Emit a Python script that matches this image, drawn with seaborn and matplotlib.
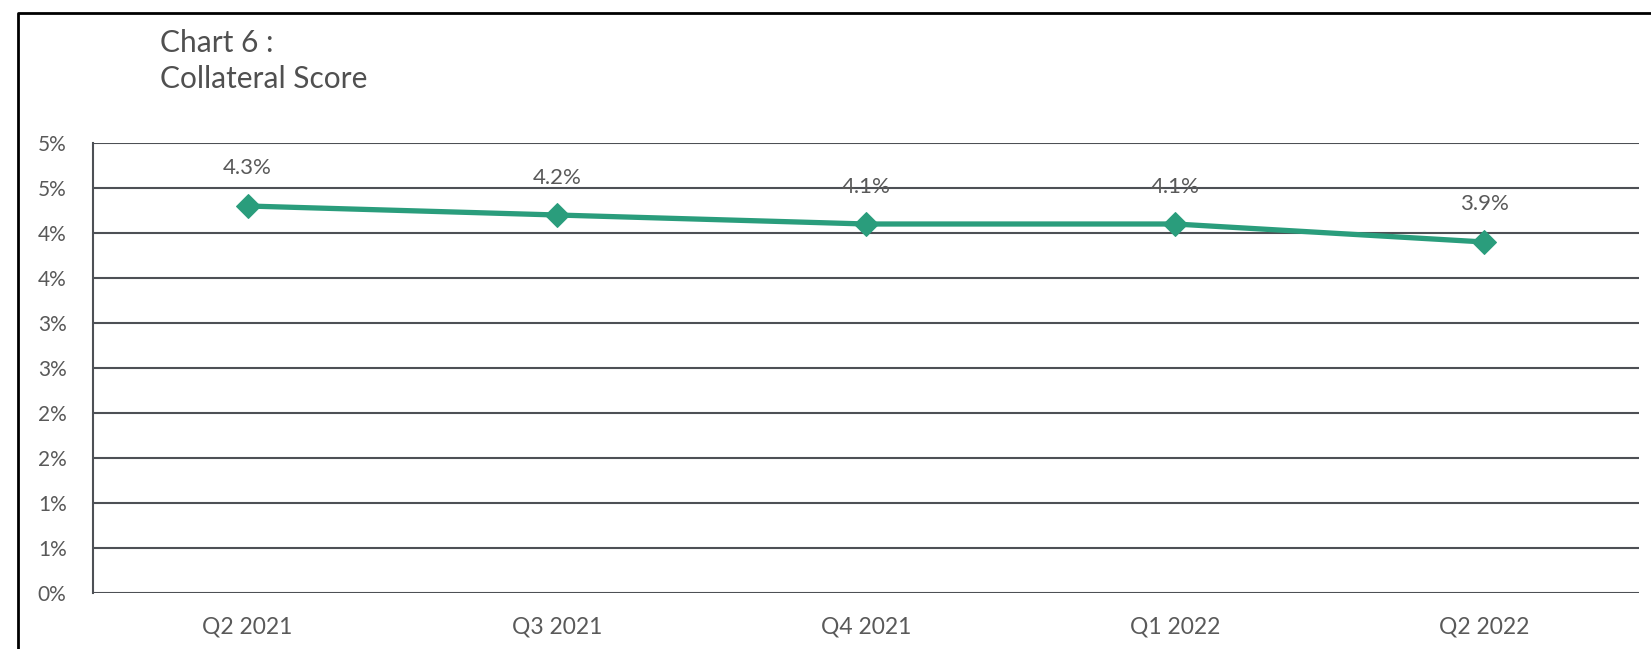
import matplotlib
matplotlib.use("Agg")
import matplotlib.pyplot as plt
import matplotlib.lines as mlines
import pandas as pd
import seaborn as sns

# chart data
quarters = ["Q2 2021", "Q3 2021", "Q4 2021", "Q1 2022", "Q2 2022"]
collateral_score = [4.3, 4.2, 4.1, 4.1, 3.9]
value_labels = ["4.3%", "4.2%", "4.1%", "4.1%", "3.9%"]
y_ticks = [0, 0.5, 1, 1.5, 2, 2.5, 3, 3.5, 4, 4.5, 5]
y_tick_labels = ["0%", "1%", "1%", "2%", "2%", "3%", "3%", "4%", "4%", "5%", "5%"]

LINE_COLOUR = "#2A9D7C"
GRID_COLOUR = "#4D5055"
TEXT_COLOUR = "#595959"

sns.set_style("white")
plt.rcParams["font.family"] = ["Lato", "DejaVu Sans"]

df = pd.DataFrame({"quarter": quarters, "score": collateral_score})

W, H = 1651, 649
fig = plt.figure(figsize=(W / 100, H / 100), dpi=100)
fig.patch.set_facecolor("white")
ax = fig.add_axes([93 / W, 1 - 593 / H, (1639 - 93) / W, (593 - 143) / H])

sns.lineplot(data=df, x="quarter", y="score", ax=ax, color=LINE_COLOUR,
             linewidth=3.8, marker="D", markersize=12,
             markeredgecolor=LINE_COLOUR, sort=False, zorder=3)

ax.set_xlim(-0.5, len(quarters) - 0.5)
ax.set_ylim(0, 5)
ax.set_yticks(y_ticks)
ax.set_yticklabels(y_tick_labels)
for y in y_ticks:
    ax.axhline(y, color=GRID_COLOUR, linewidth=1.5, zorder=1)

for i, (v, lab) in enumerate(zip(collateral_score, value_labels)):
    ax.annotate(lab, (i, v), xytext=(0, 27), textcoords="offset points",
                ha="center", va="center", fontsize=16, color=TEXT_COLOUR,
                zorder=2)

ax.set_xlabel("")
ax.set_ylabel("")
ax.tick_params(axis="y", length=0, labelsize=15, labelcolor=TEXT_COLOUR, pad=19)
ax.tick_params(axis="x", length=0, labelsize=16.5, labelcolor=TEXT_COLOUR, pad=17)
for s in ["top", "right", "bottom"]:
    ax.spines[s].set_visible(False)
ax.spines["left"].set_color(GRID_COLOUR)
ax.spines["left"].set_linewidth(1.5)

# chart title
fig.text(160 / W, 1 - 52 / H, "Chart 6 :", fontsize=21.5, color="#505050",
         va="baseline", ha="left")
fig.text(160 / W, 1 - 88 / H, "Collateral Score", fontsize=21.5, color="#505050",
         va="baseline", ha="left")

# outer chart frame (left and top edges visible)
fig.add_artist(mlines.Line2D([18 / W, 18 / W, 1.0], [0.0, 1 - 13 / H, 1 - 13 / H],
                             transform=fig.transFigure, color="black", linewidth=2))

fig.savefig("out.png", dpi=100)
